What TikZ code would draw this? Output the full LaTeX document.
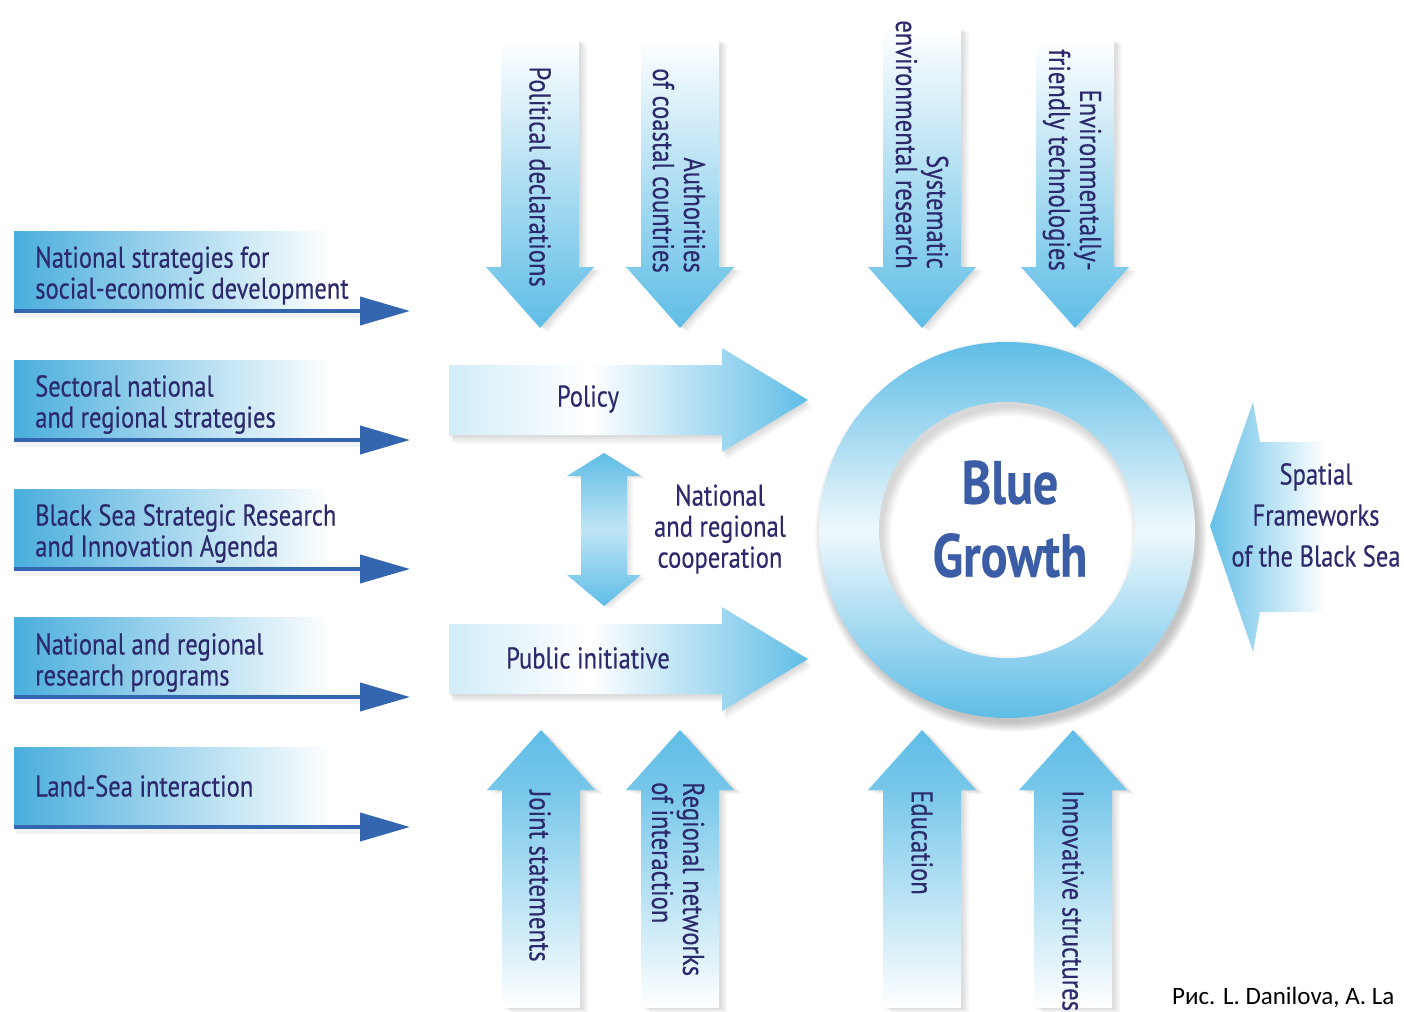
\documentclass[tikz,border=0pt]{standalone}
\usepackage{fontspec}
\setmainfont{PT Sans}
\newfontfamily\condf[FakeStretch=0.82, FakeBold=0.35]{PT Sans}
\newfontfamily\capf{Carlito}
\usetikzlibrary{arrows.meta}
\definecolor{ab}{HTML}{5FBDE6}
\definecolor{lb}{HTML}{4AAEDD}
\definecolor{ln}{HTML}{3466AF}
\definecolor{navy}{HTML}{2C2A6C}
\definecolor{bgc}{HTML}{3A5DA6}
\tikzset{
  lbl/.style={font=\condf\fontsize{30}{31}\selectfont, text=navy, inner sep=0pt, align=left},
  bandline/.style={line width=4pt, draw=ln, -{Triangle[length=50pt, width=28pt]}},
  shd/.style={fill=black, opacity=0.035},
}
% vertical arrow paths: cx, top/bottom end, head base, tip
\newcommand\myVpath[4]{({#1-39},#2) -- ({#1+39},#2) -- ({#1+39},#3) -- ({#1+54},#3) -- (#1,#4) -- ({#1-54},#3) -- ({#1-39},#3) -- cycle}
\newcommand\myDownArrow[4]{%
  \foreach \s in {2,4,6,8}{\path[shd, shift={(\s,{0.5*\s})}] \myVpath{#1}{#2}{#3}{#4};}
  \begin{scope}
    \clip \myVpath{#1}{#2}{#3}{#4};
    \shade[top color=white, bottom color=ab!80] ({#1-60},#2) rectangle ({#1+60},#3);
    \shade[top color=ab!80, bottom color=ab] ({#1-60},#3) rectangle ({#1+60},#4);
  \end{scope}}
\newcommand\myUpArrow[4]{%
  \foreach \s in {2,4,6,8}{\path[shd, shift={(\s,{0.5*\s})}] \myVpath{#1}{#2}{#3}{#4};}
  \begin{scope}
    \clip \myVpath{#1}{#2}{#3}{#4};
    \shade[top color=ab, bottom color=ab!85] ({#1-60},#4) rectangle ({#1+60},#3);
    \shade[top color=ab!85, bottom color=white] ({#1-60},#3) rectangle ({#1+60},#2);
  \end{scope}}
% horizontal arrows: centre y
\newcommand\myRpath[1]{(449,{#1-35}) -- (722,{#1-35}) -- (722,{#1-52}) -- (808,#1) -- (722,{#1+52}) -- (722,{#1+35}) -- (449,{#1+35}) -- cycle}
\newcommand\myRightArrow[1]{%
  \foreach \s in {2,4,6,8}{\path[shd, shift={({0.5*\s},\s)}] \myRpath{#1};}
  \begin{scope}
    \clip \myRpath{#1};
    \shade[left color=ab!30, right color=white] (440,{#1-60}) rectangle (590,{#1+60});
    \shade[left color=white, right color=ab] (590,{#1-60}) rectangle (810,{#1+60});
  \end{scope}}
\newcommand\myBand[2]{%
  \path[fill=black, opacity=0.05] (16,{#2+2}) rectangle (362,{#2+7});
  \shade[left color=lb, right color=white] (14,{#2-80}) rectangle (332,#2);
  \coordinate (#1s) at (14,#2);
  \coordinate (#1e) at (410,#2);
  \draw[bandline] (#1s) -- (#1e);}
\begin{document}
\begin{tikzpicture}[x=1pt,y=-1pt]
\useasboundingbox (0,0) rectangle (1404,1011);
\fill[white] (0,0) rectangle (1404,1011);

% ---------- left bands ----------
\myBand{b1}{311}
\myBand{b2}{440}
\myBand{b3}{569}
\myBand{b4}{697}
\myBand{b5}{827}
\node[lbl, anchor=west] (t1) at (35,275.5) {National strategies for\\social-economic development};
\node[lbl, anchor=west] (t2) at (35,404.5) {Sectoral national\\and regional strategies};
\node[lbl, anchor=west] (t3) at (35,533.5) {Black Sea Strategic Research\\and Innovation Agenda};
\node[lbl, anchor=west] (t4) at (35,662.5) {National and regional\\research programs};
\node[lbl, anchor=west] (t5) at (35,786) {Land-Sea interaction};

% ---------- top arrows ----------
\myDownArrow{540}{40}{267}{328}
\myDownArrow{680}{40}{267}{328}
\myDownArrow{922}{28}{267}{328}
\myDownArrow{1075}{40}{267}{328}
\node[lbl, rotate=-90, anchor=east, align=right] (pd) at (540,287) {Political declarations};
\node[lbl, rotate=-90, anchor=east, align=right] (ac) at (679,273) {Authorities\\of coastal countries};
\node[lbl, rotate=-90, anchor=east, align=right] (se) at (922,269) {Systematic\\environmental research};
\node[lbl, rotate=-90, anchor=east, align=right] (ef) at (1072,271) {Environmentally-\\friendly technologies};

% ---------- bottom arrows ----------
\myUpArrow{541}{1008}{790}{730}
\myUpArrow{680}{1008}{790}{730}
\myUpArrow{922}{1008}{790}{730}
\myUpArrow{1073}{1008}{790}{730}
\node[lbl, rotate=-90, anchor=west] (js) at (540,790) {Joint statements};
\node[lbl, rotate=-90, anchor=west] (rn) at (678,782) {Regional networks\\of interaction};
\node[lbl, rotate=-90, anchor=west] (ed) at (922,790) {Education};
\node[lbl, rotate=-90, anchor=west] (is) at (1073,790) {Innovative structures};

% ---------- policy / public initiative ----------
\myRightArrow{400}
\myRightArrow{659}
\node[lbl] (pol) at (588,399) {Policy};
\node[lbl] (pub) at (588,658) {Public initiative};

% double arrow
\foreach \s in {2,4,6}{\path[shd, shift={(\s,{0.5*\s})}] (604,453) -- (641,476) -- (627,476) -- (627,575) -- (641,575) -- (604,606) -- (567,575) -- (581,575) -- (581,476) -- (567,476) -- cycle;}
\shade[top color=ab, bottom color=ab, middle color=ab!40] (604,453) -- (641,476) -- (627,476) -- (627,575) -- (641,575) -- (604,606) -- (567,575) -- (581,575) -- (581,476) -- (567,476) -- cycle;
\node[lbl, align=center] (coop) at (720,529) {National\\and regional\\cooperation};

% ---------- ring ----------
\foreach \k in {1,...,10}{\fill[black, opacity=0.022] (1011,536) circle ({186+\k});}
\shade[top color=ab, bottom color=ab, middle color=ab!10] (1007,530) circle (188);
\fill[white] (1007,530) circle (128);
\begin{scope}
  \clip (1007,530) circle (128);
  \foreach \k in {0,2,4,6,8}{\fill[black, opacity=0.03, even odd rule] (1007,530) circle (130) (1011,536) circle ({128-\k});}
\end{scope}
\node[font=\condf\bfseries\fontsize{61}{73}\selectfont, text=bgc, align=center, inner sep=0pt] (bg) at (1010,519) {Blue\\Growth};

% ---------- spatial frameworks ----------
\begin{scope}
  \clip (1210,526) -- (1253,402) -- (1260,442) -- (1350,442) -- (1350,612) -- (1260,612) -- (1253,652) -- cycle;
  \shade[left color=ab, right color=white] (1205,395) rectangle (1325,660);
\end{scope}
\node[lbl, align=center, font=\condf\fontsize{30}{41}\selectfont] (sf) at (1316,515) {Spatial\\Frameworks\\of the Black Sea};

% ---------- caption ----------
\node[font=\capf\fontsize{25}{28}\selectfont, anchor=base west, inner sep=0pt] (cap) at (1172,1004) {Рис. L. Danilova, A. La};
\end{tikzpicture}
\end{document}
